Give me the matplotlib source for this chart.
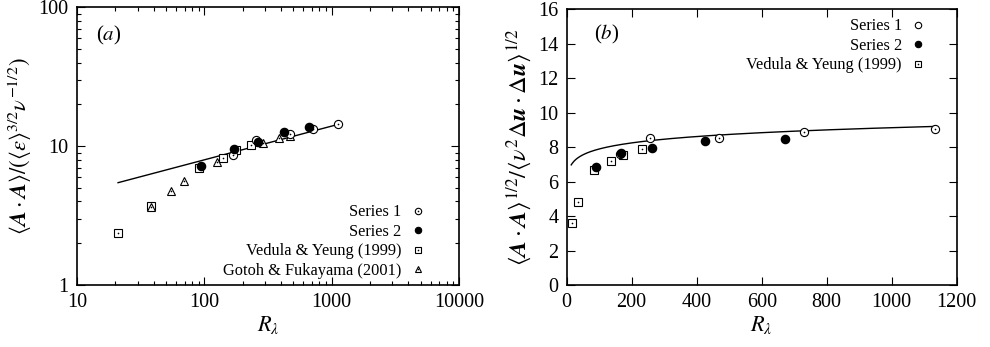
import numpy as np
import matplotlib
matplotlib.use("Agg")
import matplotlib.pyplot as plt
from matplotlib.legend_handler import HandlerTuple
from matplotlib.lines import Line2D

plt.rcParams["font.family"] = ["Liberation Serif", "DejaVu Serif"]
plt.rcParams["mathtext.fontset"] = "stix"

# Reynolds numbers and normalised values
s1_R = [167, 255, 471, 718, 1127]
s1_a = [8.7, 11.1, 12.2, 13.4, 14.4]
s1_R_b = [163, 255, 469, 729, 1133]
s1_b = [7.62, 8.52, 8.55, 8.86, 9.03]

s2_R = [94, 172, 266, 425, 668]
s2_a = [7.24, 9.5, 10.7, 12.7, 13.7]
s2_R_b = [89, 167, 264, 425, 672]
s2_b = [6.83, 7.68, 7.93, 8.36, 8.49]

vy_R = [21, 38, 90, 140, 178, 234]
vy_a = [2.38, 3.73, 6.92, 8.2, 9.4, 10.2]
vy_R_b = [16, 34, 85, 137, 173, 231]
vy_b = [3.62, 4.82, 6.67, 7.21, 7.52, 7.89]

gf_R = [38, 54.6, 69.5, 125, 288, 389, 471]
gf_a = [3.67, 4.73, 5.58, 7.65, 10.5, 11.4, 11.9]

# Power-law fits  y = c * R**p
fit_a = dict(c=2.605, p=0.243, Rmin=21, Rmax=1130)
fit_b = dict(c=5.90, p=0.0632, Rmin=14, Rmax=1135)

fig = plt.figure(figsize=(9.9, 3.47), dpi=100)
axA = fig.add_axes([0.0778, 0.1787, 0.3859, 0.800])
axB = fig.add_axes([0.5724, 0.1787, 0.3940, 0.7945])

ms_c = 5.9
ms_s = 5.5
ms_t = 5.6
dot = 1.2


def open_marker(ax, x, y, m, ms):
    h1, = ax.plot(x, y, ls="none", marker=m, ms=ms, mfc="white", mec="black", mew=0.8)
    h2, = ax.plot(x, y, ls="none", marker="o", ms=dot, mfc="black", mec="black", mew=0)
    return (h1, h2)


def fit_curve(ax, f):
    R = np.linspace(f["Rmin"], f["Rmax"], 400)
    ax.plot(R, f["c"] * R ** f["p"], color="black", lw=1.0, zorder=1)


def legend_handle(m, ms, filled=False, with_dot=True):
    face = "black" if filled else "white"
    h = Line2D([], [], ls="none", marker=m, ms=ms, mfc=face, mec="black", mew=0.8)
    if filled or not with_dot:
        return h
    return (h, Line2D([], [], ls="none", marker="o", ms=dot, mfc="black", mec="black", mew=0))


# ---- panel (a)
fit_curve(axA, fit_a)
open_marker(axA, vy_R, vy_a, "s", ms_s)
open_marker(axA, gf_R, gf_a, "^", ms_t)
open_marker(axA, s1_R, s1_a, "o", ms_c)
axA.plot(s2_R, s2_a, ls="none", marker="o", ms=ms_c, mfc="black", mec="black")

axA.set_xscale("log")
axA.set_yscale("log")
axA.set_xlim(10, 10000)
axA.set_ylim(1, 100)
axA.set_xticks([10, 100, 1000, 10000])
axA.set_xticklabels(["10", "100", "1000", "10000"])
axA.set_yticks([1, 10, 100])
axA.set_yticklabels(["1", "10", "100"])
axA.set_xlabel(r"$R_\lambda$", fontsize=16, labelpad=1)
axA.set_ylabel(r"$\langle \boldsymbol{A}\cdot\boldsymbol{A}\rangle/(\langle\epsilon\rangle^{3/2}\nu^{-1/2})$",
               fontsize=16.3, labelpad=3)
axA.text(0.05, 0.94, r"($a$)", transform=axA.transAxes, fontsize=15, va="top")

axA.legend([legend_handle("o", 4.6), legend_handle("o", 4.6, filled=True),
            legend_handle("s", 4.4), legend_handle("^", 4.4)],
           ["Series 1", "Series 2", "Vedula & Yeung (1999)", "Gotoh & Fukayama (2001)"],
           handler_map={tuple: HandlerTuple(ndivide=1, pad=0)},
           loc="lower right", bbox_to_anchor=(0.94, -0.02), frameon=False,
           markerfirst=False, fontsize=11.8, handlelength=0.8, handletextpad=0.6,
           labelspacing=0.22, borderpad=0.2)

# ---- panel (b)
fit_curve(axB, fit_b)
open_marker(axB, vy_R_b, vy_b, "s", ms_s)
open_marker(axB, s1_R_b, s1_b, "o", ms_c)
axB.plot(s2_R_b, s2_b, ls="none", marker="o", ms=ms_c, mfc="black", mec="black")

axB.set_xlim(0, 1200)
axB.set_ylim(0, 16)
axB.set_xticks(range(0, 1201, 200))
axB.set_yticks(range(0, 17, 2))
axB.set_xlabel(r"$R_\lambda$", fontsize=16, labelpad=1)
axB.set_ylabel(r"$\langle \boldsymbol{A}\cdot\boldsymbol{A}\rangle^{1/2}/\langle\nu^2\Delta\boldsymbol{u}\cdot\Delta\boldsymbol{u}\rangle^{1/2}$",
               fontsize=17.5, labelpad=3)
axB.text(0.07, 0.95, r"($b$)", transform=axB.transAxes, fontsize=15, va="top")

axB.legend([legend_handle("o", 4.6, with_dot=False), legend_handle("o", 4.6, filled=True),
            legend_handle("s", 4.4)],
           ["Series 1", "Series 2", "Vedula & Yeung (1999)"],
           handler_map={tuple: HandlerTuple(ndivide=1, pad=0)},
           loc="upper right", bbox_to_anchor=(0.952, 1.015), frameon=False,
           markerfirst=False, fontsize=11.8, handlelength=0.8, handletextpad=0.6,
           labelspacing=0.22, borderpad=0.3)

for ax in (axA, axB):
    ax.tick_params(which="both", direction="in", top=True, right=True, labelsize=14.5,
                   width=0.8, pad=6)
    ax.tick_params(which="major", length=6)
    ax.tick_params(which="minor", length=3)
    for s in ax.spines.values():
        s.set_linewidth(1.2)

fig.savefig("out.png", dpi=100)
